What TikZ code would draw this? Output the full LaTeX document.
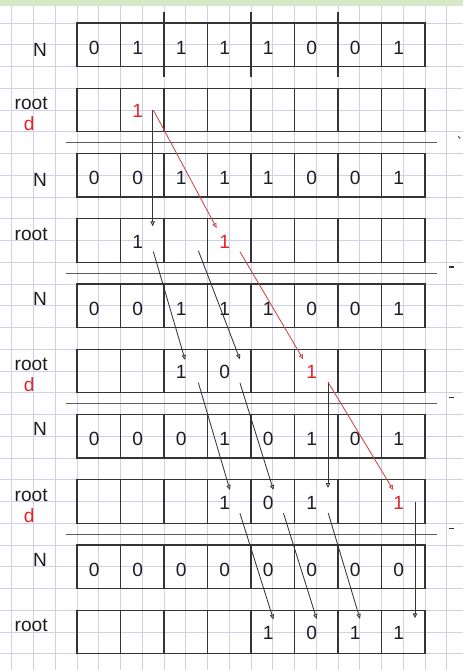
\documentclass[tikz,border=0pt]{standalone}
\usepackage{fontspec}
\setmainfont{Liberation Sans}
\usetikzlibrary{arrows.meta}
\definecolor{grid-lilac}{RGB}{208,208,238}
\definecolor{band-green}{RGB}{213,232,200}
\definecolor{mark-red}{RGB}{228,36,36}
\definecolor{line-red}{RGB}{200,70,70}
\definecolor{ink}{RGB}{52,52,52}
\definecolor{text-black}{RGB}{30,30,30}

\begin{document}
\begin{tikzpicture}[x=0.5cm, y=0.5cm,
      every node/.style={font=\fontsize{12.5}{14}\selectfont, inner sep=0pt, text=text-black},
      cell/.style={draw=ink, line width=0.85pt, minimum width=1cm, minimum height=1cm},
      flow/.style={draw=ink, line width=0.55pt, -{Triangle[open,length=3.2pt,width=2.8pt]}},
      redflow/.style={flow, draw=line-red}]
    % page size, green band on top and the squared paper
    \useasboundingbox (-3.540,1.057) rectangle (17.747,-29.747);
    \fill[white] (-3.540,1.057) rectangle (17.747,-29.747);
    \foreach \gx in {-3,...,17} {
      \draw[grid-lilac, line width=0.6pt] (\gx,1.057) -- (\gx,-29.747);
    }
    \foreach \gy in {1,0,...,-29} {
      \draw[grid-lilac, line width=0.6pt] (-3.540,\gy) -- (17.747,\gy);
    }
    \fill[band-green] (-3.540,1.057) rectangle (17.747,0.78);

    % five steps: N row (bits) and root row below it
    \foreach \b/\bits/\nd in {0/{0,1,1,1,1,0,0,1}/-0.24, 1/{0,0,1,1,1,0,0,1}/-0.22,
        2/{0,0,1,1,1,0,0,1}/0.31, 3/{0,0,0,1,0,1,0,1}/0.33, 4/{0,0,0,0,0,0,0,0}/0.31} {
      \node (N\b) at (-1.70,-6*\b-1+\nd) {N};
      \node (root\b) at (-2.11,-6*\b-3.7) {root};
      \foreach \v [count=\c] in \bits {
        \node[cell] (N\b-\c) at (2*\c-1,-6*\b-1) {};
        \node[cell] (R\b-\c) at (2*\c-1,-6*\b-4) {};
        \node (n\b-\c) at ([xshift=-3pt,yshift=-2pt]N\b-\c.center) {\v};
      }
    }
    \foreach \b in {0,2,3} {
      \node[text=mark-red] (d\b) at (-2.2,-6*\b-4.65) {d};
    }

    % pair marks across the first N row
    \foreach \gx in {4,8,12} {
      \draw[ink, line width=0.85pt] (\gx,0.52) -- (\gx,-2.47);
    }

    % separators between the steps, with the small marks at the right
    \foreach \b in {0,...,3} {
      \draw[ink!80, line width=0.8pt] (-0.506,-6*\b-5.5) -- (16.55,-6*\b-5.5);
    }
    \draw[ink, line width=0.6pt] (17.52,-5.22) -- (17.62,-5.3);
    \foreach \b in {1,2,3} {
      \draw[ink, line width=0.7pt] (17.12,-6*\b-5.22) -- (17.35,-6*\b-5.22);
    }

    % digits kept in the root rows (red: the carried digit d)
    \foreach \b/\c/\v/\col in {0/2/1/mark-red, 1/2/1/text-black, 1/4/1/mark-red,
        2/3/1/text-black, 2/4/0/text-black, 2/6/1/mark-red,
        3/4/1/text-black, 3/5/0/text-black, 3/6/1/text-black, 3/8/1/mark-red,
        4/5/1/text-black, 4/6/0/text-black, 4/7/1/text-black, 4/8/1/text-black} {
      \node[text=\col] (r\b-\c) at ([xshift=-3pt,yshift=-0.8pt]R\b-\c.center) {\v};
    }

    % arrows from one root row to the next
    \foreach \k/\sx/\sy/\ex/\ey/\sty in {1/3.48/-4.0/3.48/-9.35/flow,
        2/3.51/-4.0/6.42/-9.43/redflow,
        3/3.51/-10.51/4.97/-15.49/flow, 4/5.58/-10.47/7.49/-15.46/flow,
        5/7.49/-10.51/10.40/-15.46/redflow,
        6/5.58/-16.54/7.03/-21.47/flow, 7/7.49/-16.54/9.03/-21.47/flow,
        8/11.54/-16.51/11.54/-21.38/flow, 9/11.54/-16.51/14.54/-21.47/redflow,
        10/7.49/-22.54/9.03/-27.42/flow, 11/9.49/-22.53/11.02/-27.40/flow,
        12/11.55/-22.53/13.01/-27.40/flow, 13/15.54/-22.01/15.54/-27.37/flow} {
      \coordinate (t\k) at (\sx,\sy);
      \coordinate (h\k) at (\ex,\ey);
      \draw[\sty] (t\k) -- (h\k);
    }
  \end{tikzpicture}
\end{document}
